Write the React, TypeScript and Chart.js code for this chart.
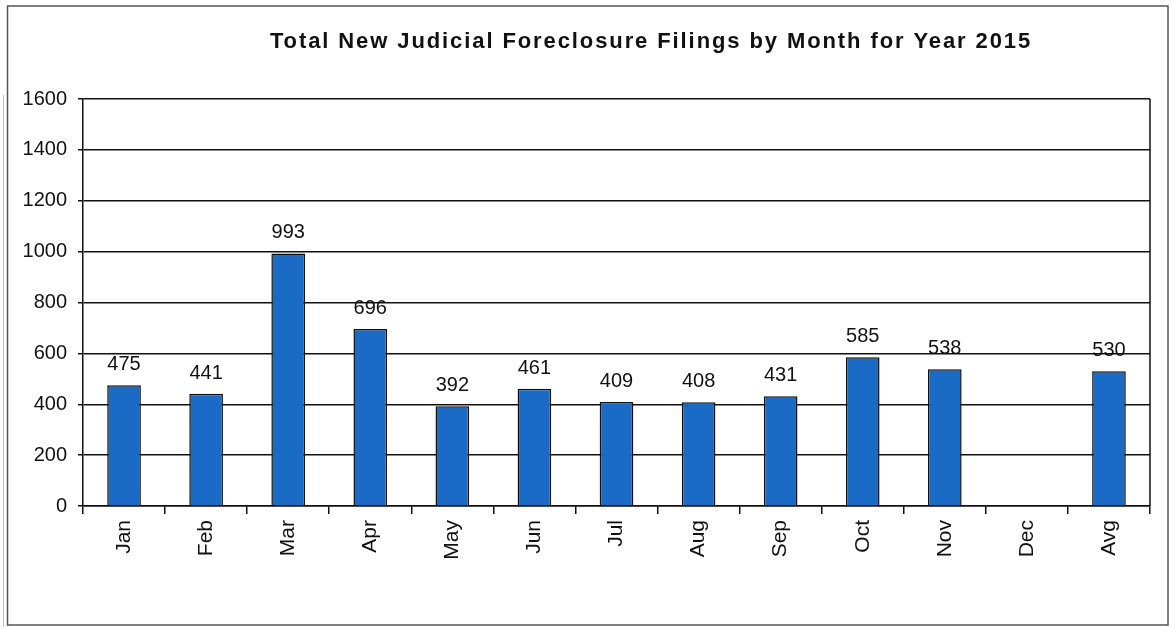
import React, { useEffect, useRef } from "react";
import { Chart, registerables } from "chart.js";

Chart.register(...registerables);

const categories = ["Jan", "Feb", "Mar", "Apr", "May", "Jun", "Jul", "Aug", "Sep", "Oct", "Nov", "Dec", "Avg"];
const filings: (number | null)[] = [475, 441, 993, 696, 392, 461, 409, 408, 431, 585, 538, null, 530];
const yTicks = [0, 200, 400, 600, 800, 1000, 1200, 1400, 1600];
const titleText = "Total New Judicial Foreclosure Filings by Month for Year 2015";

const FONT = "'Liberation Sans', Arial, sans-serif";

const framePlugin = {
  id: "frame",
  beforeDraw(chart: any) {
    const ctx = chart.ctx;
    ctx.save();
    ctx.fillStyle = "#ffffff";
    ctx.fillRect(0, 0, chart.width, chart.height);
    ctx.strokeStyle = "#555555";
    ctx.lineWidth = 1.5;
    ctx.strokeRect(7.5, 6, 1160.5, 619);
    ctx.strokeStyle = "#bbbbbb";
    ctx.lineWidth = 1;
    ctx.beginPath();
    ctx.moveTo(3.5, 95);
    ctx.lineTo(3.5, chart.height);
    ctx.stroke();
    ctx.restore();
  },
  afterDraw(chart: any) {
    const ctx = chart.ctx;
    const a = chart.chartArea;
    ctx.save();
    ctx.strokeStyle = "#111111";
    ctx.lineWidth = 1.5;
    ctx.beginPath();
    ctx.moveTo(a.right, a.top);
    ctx.lineTo(a.right, a.bottom);
    ctx.stroke();
    // title
    ctx.fillStyle = "#111111";
    ctx.font = `bold 22px ${FONT}`;
    (ctx as any).letterSpacing = "1.9px";
    ctx.textAlign = "center";
    ctx.textBaseline = "alphabetic";
    ctx.fillText(titleText, 651, 48);
    ctx.restore();
  },
};

const labelPlugin = {
  id: "barLabels",
  afterDatasetsDraw(chart: any) {
    const ctx = chart.ctx;
    const meta = chart.getDatasetMeta(0);
    const data = chart.data.datasets[0].data;
    ctx.save();
    ctx.fillStyle = "#111111";
    ctx.font = `20px ${FONT}`;
    ctx.textAlign = "center";
    ctx.textBaseline = "alphabetic";
    meta.data.forEach((el: any, i: number) => {
      const v = data[i];
      if (v === null || v === undefined) return;
      ctx.fillText(String(v), el.x, el.y - 15);
    });
    ctx.restore();
  },
};

export default function App() {
  const ref = useRef<HTMLCanvasElement>(null);
  useEffect(() => {
    if (!ref.current) return;
    const chart = new Chart(ref.current, {
      type: "bar",
      data: {
        labels: categories,
        datasets: [
          {
            data: filings,
            backgroundColor: "#1a6bc6",
            borderColor: "#111111",
            borderWidth: 1.5,
            categoryPercentage: 1,
            barPercentage: 0.41,
          },
        ],
      },
      options: {
        responsive: false,
        animation: false,
        layout: { padding: { top: 99, right: 24, left: 0, bottom: 0 } },
        plugins: {
          legend: { display: false },
          title: { display: false },
          tooltip: { enabled: false },
        },
        scales: {
          x: {
            offset: true,
            afterFit: (s: any) => {
              s.height = 121;
            },
            grid: {
              offset: true,
              drawOnChartArea: false,
              drawTicks: true,
              tickLength: 8,
              color: "#111111",
              lineWidth: 1.5,
            },
            border: { display: true, color: "#111111", width: 1.5 },
            ticks: {
              maxRotation: 90,
              minRotation: 90,
              padding: 6,
              color: "#111111",
              font: { family: FONT, size: 21 },
            },
          },
          y: {
            min: 0,
            max: 1600,
            afterFit: (s: any) => {
              s.width = 83;
            },
            afterBuildTicks: (s: any) => {
              s.ticks = yTicks.map((v) => ({ value: v }));
            },
            grid: {
              color: "#111111",
              lineWidth: 1.5,
              tickLength: 5,
            },
            border: { display: true, color: "#111111", width: 1.5 },
            ticks: {
              padding: 11,
              color: "#111111",
              font: { family: FONT, size: 20 },
              callback: (v: any) => String(v),
            },
          },
        },
      },
      plugins: [framePlugin, labelPlugin],
    });
    return () => chart.destroy();
  }, []);
  return (
    <div style={{ position: "absolute", left: 0, top: 0, width: 1174, height: 627, background: "#fff" }}>
      <canvas ref={ref} width={1174} height={627} style={{ display: "block" }} />
    </div>
  );
}
